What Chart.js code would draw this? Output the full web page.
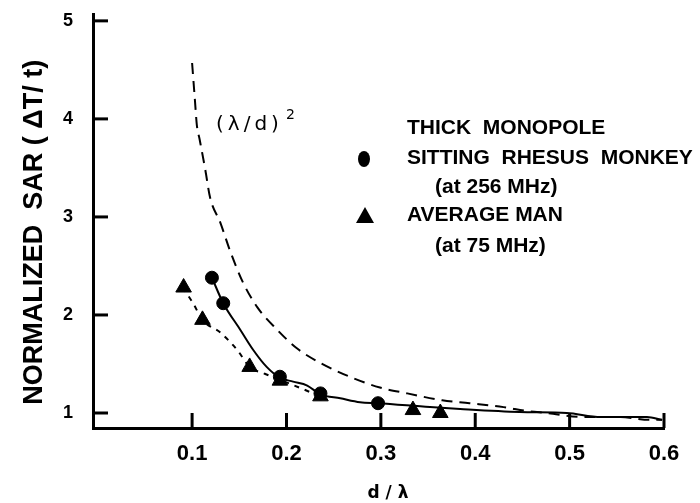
<!DOCTYPE html>
<html>
<head>
<meta charset="utf-8">
<script src="https://cdn.jsdelivr.net/npm/chart.js"></script>
<style>
  body { margin: 0; background: #ffffff; }
  canvas { display: block; }
</style>
</head>
<body>
<canvas id="sar" width="700" height="503"></canvas>
<script>
// tick labels
const xTicks = [0.1, 0.2, 0.3, 0.4, 0.5, 0.6];
const yTicks = [1, 2, 3, 4, 5];

// (lambda/d)^2 reference curve
const lambdaX = [0.100, 0.103, 0.105, 0.108, 0.114, 0.119, 0.130, 0.140, 0.154, 0.169, 0.190, 0.211, 0.236, 0.267, 0.299, 0.328, 0.365, 0.394, 0.430, 0.455, 0.476, 0.514, 0.553, 0.585, 0.598];
const lambdaY = [4.57, 4.19, 3.94, 3.79, 3.48, 3.20, 2.94, 2.66, 2.33, 2.08, 1.85, 1.66, 1.51, 1.37, 1.26, 1.20, 1.13, 1.10, 1.06, 1.02, 1.00, 0.96, 0.96, 0.93, 0.93];

// sitting rhesus monkey (256 MHz) fitted curve + points
const monkeyCurveX = [0.121, 0.133, 0.151, 0.165, 0.179, 0.193, 0.207, 0.222, 0.236, 0.257, 0.278, 0.297, 0.352, 0.384, 0.447, 0.497, 0.533, 0.582, 0.598];
const monkeyCurveY = [2.38, 2.12, 1.85, 1.64, 1.47, 1.36, 1.32, 1.28, 1.19, 1.15, 1.11, 1.10, 1.06, 1.04, 1.01, 1.00, 0.96, 0.96, 0.93];
const monkeyX = [0.121, 0.133, 0.193, 0.236, 0.297];
const monkeyY = [2.38, 2.12, 1.37, 1.20, 1.10];

// average man (75 MHz) fitted curve + points
const manCurveX = [0.090, 0.101, 0.111, 0.130, 0.148, 0.161, 0.177, 0.193, 0.236];
const manCurveY = [2.28, 2.12, 1.95, 1.82, 1.64, 1.47, 1.40, 1.34, 1.17];
const manX = [0.091, 0.111, 0.161, 0.193, 0.236, 0.334, 0.363];
const manY = [2.28, 1.95, 1.47, 1.33, 1.17, 1.03, 1.00];

const zip = (xs, ys) => xs.map((x, i) => ({ x: x, y: ys[i] }));

const FONT = "'Liberation Sans', Arial, sans-serif";

// inward ticks, legend, curve label and x title
const extras = {
    id: "extras",
    afterDraw(chart) {
        const ctx = chart.ctx;
        const xs = chart.scales.x, ys = chart.scales.y;
        const area = chart.chartArea;
        ctx.save();
        ctx.strokeStyle = "#000";
        ctx.lineWidth = 3;
        xTicks.forEach(v => {
            const px = xs.getPixelForValue(v);
            ctx.beginPath();
            ctx.moveTo(px, area.bottom);
            ctx.lineTo(px, area.bottom - 15);
            ctx.stroke();
        });
        yTicks.forEach(v => {
            const py = ys.getPixelForValue(v);
            ctx.beginPath();
            ctx.moveTo(area.left, py);
            ctx.lineTo(area.left + 15, py);
            ctx.stroke();
        });

        // legend
        ctx.fillStyle = "#000";
        ctx.textBaseline = "middle";
        ctx.textAlign = "left";
        ctx.font = "bold 21px " + FONT;
        ctx.fillText("THICK  MONOPOLE", 407, 128);
        ctx.fillText("SITTING  RHESUS  MONKEY", 407, 158);
        ctx.fillText("(at 256 MHz)", 435, 187);
        ctx.fillText("AVERAGE MAN", 407, 215);
        ctx.fillText("(at 75 MHz)", 435, 246);

        ctx.beginPath();
        ctx.ellipse(364, 159, 6, 8, 0, 0, Math.PI * 2);
        ctx.fill();
        ctx.beginPath();
        ctx.moveTo(365, 207);
        ctx.lineTo(374, 223);
        ctx.lineTo(356, 223);
        ctx.closePath();
        ctx.fill();

        // x title
        ctx.font = "bold 17px 'DejaVu Sans', sans-serif";
        ctx.textAlign = "center";
        ctx.fillText("d / λ", 388, 494);

        // (lambda/d)^2 label
        ctx.textAlign = "left";
        ctx.font = "20px 'DejaVu Sans', sans-serif";
        ctx.letterSpacing = "4px";
        ctx.fillText("(λ/d)", 216, 125);
        ctx.letterSpacing = "0px";
        ctx.font = "14px 'DejaVu Sans', sans-serif";
        ctx.fillText("2", 286, 115);
        ctx.restore();
    }
};

new Chart(document.getElementById("sar"), {
    type: "scatter",
    data: {
        datasets: [
            {
                data: zip(lambdaX, lambdaY),
                showLine: true,
                borderColor: "#000",
                borderWidth: 2,
                borderDash: [11, 7],
                pointRadius: 0,
                cubicInterpolationMode: "monotone"
            },
            {
                data: zip(monkeyCurveX, monkeyCurveY),
                showLine: true,
                borderColor: "#000",
                borderWidth: 2,
                pointRadius: 0,
                cubicInterpolationMode: "monotone"
            },
            {
                data: zip(manCurveX, manCurveY),
                showLine: true,
                borderColor: "#000",
                borderWidth: 2,
                borderDash: [5, 6],
                pointRadius: 0,
                cubicInterpolationMode: "monotone"
            },
            {
                data: zip(monkeyX, monkeyY),
                pointStyle: "circle",
                pointRadius: 6.5,
                backgroundColor: "#000",
                borderColor: "#000"
            },
            {
                data: zip(manX, manY),
                pointStyle: "triangle",
                pointRadius: 9,
                backgroundColor: "#000",
                borderColor: "#000"
            }
        ]
    },
    options: {
        responsive: false,
        animation: false,
        layout: { padding: { top: 14, right: 36, left: 0, bottom: 0 } },
        plugins: {
            legend: { display: false },
            tooltip: { enabled: false }
        },
        scales: {
            x: {
                type: "linear",
                min: -0.005,
                max: 0.6,
                afterFit(scale) { scale.height = 75; },
                afterBuildTicks(scale) { scale.ticks = xTicks.map(v => ({ value: v })); },
                grid: { display: false, drawTicks: false },
                border: { display: true, width: 3, color: "#000" },
                ticks: {
                    padding: 13,
                    color: "#000",
                    font: { family: FONT, size: 22, weight: "bold" },
                    callback: v => v.toFixed(1)
                }
            },
            y: {
                type: "linear",
                min: 0.847,
                max: 5.07,
                afterFit(scale) { scale.width = 93; },
                afterBuildTicks(scale) { scale.ticks = yTicks.map(v => ({ value: v })); },
                grid: { display: false, drawTicks: true, tickLength: 20 },
                border: { display: true, width: 3, color: "#000" },
                ticks: {
                    padding: 0,
                    color: "#000",
                    font: { family: FONT, size: 18, weight: "bold" }
                },
                title: {
                    display: true,
                    text: "NORMALIZED  SAR ( ΔT/ t)   ",
                    color: "#000",
                    padding: { top: 18 },
                    font: { family: FONT, size: 27, weight: "bold" }
                }
            }
        }
    },
    plugins: [extras]
});
</script>
</body>
</html>
